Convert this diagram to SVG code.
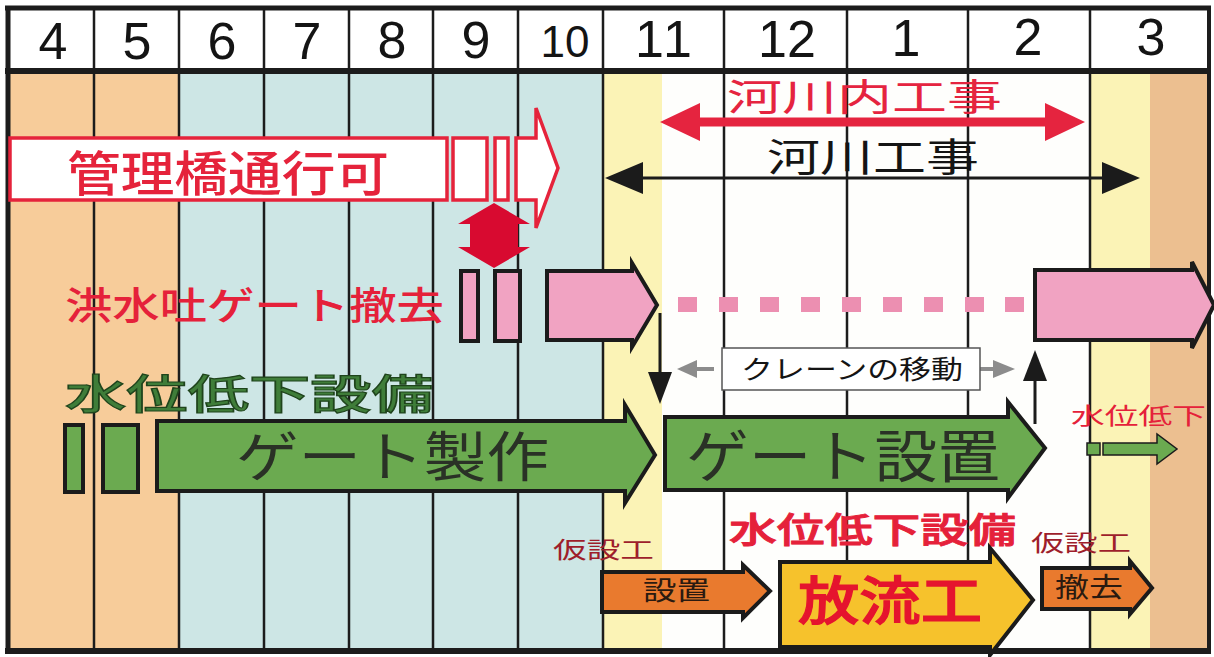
<svg xmlns="http://www.w3.org/2000/svg" width="1214" height="657" viewBox="0 0 1214 657">
<defs>
<style>
.cj{font-family:"Noto Sans CJK JP","Noto Sans CJK SC",sans-serif;}
.num{font-family:"Liberation Sans",Arial,sans-serif;font-size:52px;fill:#141414;text-anchor:middle}
.col{stroke:#1c1c1c;stroke-width:2.5;fill:none}
.brd{stroke:#1c1c1c;fill:none}
.blk{stroke:#1b1b1b;stroke-width:4;stroke-linejoin:miter}
.pink{fill:#F1A3C2}
.green{fill:#6BAA50}
.orange{fill:#E97A2E}
.yellow{fill:#F6C22C}
.redout{fill:#FFFFFF;stroke:#E5233B;stroke-width:3.5}
.gray{fill:#8C8C8C}
</style>
</defs>

<g id="background">
<rect x="0" y="0" width="1214" height="657" fill="#FFFFFF"/>
<rect x="8" y="72" width="171" height="579" fill="#F7CC9A"/>
<rect x="179" y="72" width="424" height="579" fill="#CDE6E5"/>
<rect x="603" y="72" width="59" height="579" fill="#FBF3B6"/>
<rect x="662" y="72" width="428" height="579" fill="#FEFEFC"/>
<rect x="1090" y="72" width="60" height="579" fill="#FBF3B6"/>
<rect x="1150" y="72" width="59" height="579" fill="#ECBF90"/>
</g>

<g id="grid">
<line class="col" x1="94" y1="8" x2="94" y2="651"/>
<line class="col" x1="179" y1="8" x2="179" y2="651"/>
<line class="col" x1="264" y1="8" x2="264" y2="651"/>
<line class="col" x1="349" y1="8" x2="349" y2="651"/>
<line class="col" x1="433" y1="8" x2="433" y2="651"/>
<line class="col" x1="518" y1="8" x2="518" y2="651"/>
<line class="col" x1="603" y1="8" x2="603" y2="651"/>
<line class="col" x1="724" y1="8" x2="724" y2="651"/>
<line class="col" x1="847" y1="8" x2="847" y2="651"/>
<line class="col" x1="968" y1="8" x2="968" y2="651"/>
<line class="col" x1="1090" y1="8" x2="1090" y2="651"/>
<line class="brd" stroke-width="5" x1="5" y1="8" x2="1211" y2="8"/>
<line class="brd" stroke-width="6" x1="5" y1="71" x2="1211" y2="71"/>
<line class="brd" stroke-width="6" x1="5" y1="651" x2="1211" y2="651"/>
<line class="brd" stroke-width="5" x1="8" y1="6" x2="8" y2="654"/>
<line class="brd" stroke-width="4" x1="1209" y1="6" x2="1209" y2="654"/>
</g>

<g id="months">
<text class="num" x="53" y="59">4</text>
<text class="num" x="137" y="59">5</text>
<text class="num" x="222" y="59">6</text>
<text class="num" x="307" y="59">7</text>
<text class="num" x="392" y="58">8</text>
<text class="num" x="476" y="58">9</text>
<text class="num" x="565" y="57" style="font-size:44px">10</text>
<text class="num" x="665" y="57" letter-spacing="3">11</text>
<text class="num" x="787" y="57">12</text>
<text class="num" x="906" y="56">1</text>
<text class="num" x="1028" y="55">2</text>
<text class="num" x="1151" y="55">3</text>
</g>

<g id="kanrikyo">
<rect class="redout" x="10" y="138" width="437" height="62"/>
<rect class="redout" x="453" y="138" width="34" height="62"/>
<rect class="redout" x="495" y="138" width="13" height="62"/>
<polygon class="redout" points="516,138 536,138 536,108 558,168 536,228 536,200 516,200"/>
<text class="cj" x="67" y="191" font-size="48" font-weight="500" fill="#E5233B" textLength="322" lengthAdjust="spacingAndGlyphs">管理橋通行可</text>
</g>

<g id="red-updown">
<polygon fill="#D80A30" points="494,203 530,224 518,224 518,247 530,247 494,268 458,247 470,247 470,224 458,224"/>
</g>

<g id="kasen-nai">
<polygon fill="#E5243F" points="660,122 700,103 700,117.5 1045,117.5 1045,103 1085,122 1045,141 1045,126.5 700,126.5 700,141"/>
<text class="cj" x="727" y="111" font-size="37" fill="#E5243F" textLength="275" lengthAdjust="spacingAndGlyphs">河川内工事</text>
</g>

<g id="kasen">
<line x1="640" y1="178" x2="1105" y2="178" stroke="#1b1b1b" stroke-width="3"/>
<polygon fill="#1b1b1b" points="605,178 643,162 643,194"/>
<polygon fill="#1b1b1b" points="1140,178 1102,162 1102,194"/>
<text class="cj" x="767" y="171" font-size="39" fill="#141414" textLength="212" lengthAdjust="spacingAndGlyphs">河川工事</text>
</g>

<g id="gate-removal">
<text class="cj" x="65" y="319" font-size="38" font-weight="500" fill="#E5213A" textLength="379" lengthAdjust="spacingAndGlyphs">洪水吐ゲート撤去</text>
<rect class="pink blk" x="461" y="271" width="17" height="70"/>
<rect class="pink blk" x="495" y="271" width="25" height="70"/>
<polygon class="pink blk" points="547,271 632,271 632,263 657,305 632,347 632,340 547,340"/>
<g fill="#EC8FB1">
<rect x="678" y="297" width="19" height="15"/>
<rect x="719" y="297" width="19" height="15"/>
<rect x="760" y="297" width="19" height="15"/>
<rect x="801" y="297" width="19" height="15"/>
<rect x="842" y="297" width="19" height="15"/>
<rect x="883" y="297" width="19" height="15"/>
<rect x="924" y="297" width="19" height="15"/>
<rect x="965" y="297" width="19" height="15"/>
<rect x="1005" y="297" width="19" height="15"/>
</g>
<polygon class="pink blk" points="1035,270 1192,270 1192,262 1214,305 1192,348 1192,340 1035,340"/>
</g>

<g id="crane">
<line x1="660" y1="313" x2="660" y2="376" stroke="#1b1b1b" stroke-width="3"/>
<polygon fill="#1b1b1b" points="648,372 672,372 660,404"/>
<line x1="1035" y1="424" x2="1035" y2="378" stroke="#1b1b1b" stroke-width="3"/>
<polygon fill="#1b1b1b" points="1023,381 1047,381 1035,350"/>
<line x1="694" y1="369" x2="714" y2="369" stroke="#8C8C8C" stroke-width="4"/>
<polygon class="gray" points="697,360 677,369 697,378"/>
<line x1="980" y1="369" x2="996" y2="369" stroke="#8C8C8C" stroke-width="4"/>
<polygon class="gray" points="993,360 1015,369 993,378"/>
<rect x="722" y="348" width="258" height="42" fill="#FFFFFF" stroke="#555555" stroke-width="1.5"/>
<text class="cj" x="741" y="379" font-size="26" fill="#141414" textLength="222" lengthAdjust="spacingAndGlyphs">クレーンの移動</text>
</g>

<g id="suii-setsubi">
<text class="cj" x="65" y="409" font-size="41" font-weight="500" fill="#3F7D39" stroke="#1f441c" stroke-width="1.2" textLength="368" lengthAdjust="spacingAndGlyphs">水位低下設備</text>
<rect class="green blk" x="65" y="425" width="18" height="67"/>
<rect class="green blk" x="103" y="425" width="35" height="67"/>
<polygon class="green blk" points="157,421 625,421 625,405 655,455 625,503 625,491 157,491"/>
<text class="cj" x="236" y="477" font-size="54" fill="#2A3126" textLength="313" lengthAdjust="spacingAndGlyphs">ゲート製作</text>
<polygon class="green blk" points="665,417 1008,417 1008,402 1045,448 1008,498 1008,490 665,490"/>
<text class="cj" x="686" y="477" font-size="57" fill="#2A3126" textLength="314" lengthAdjust="spacingAndGlyphs">ゲート設置</text>
</g>

<g id="suii-teika">
<text class="cj" x="1071" y="424" font-size="23" fill="#E5213A" textLength="135" lengthAdjust="spacingAndGlyphs">水位低下</text>
<rect class="green" x="1087" y="443" width="13" height="12" stroke="#1b1b1b" stroke-width="1.5"/>
<polygon class="green" stroke="#1b1b1b" stroke-width="1.5" points="1103,443 1157,443 1157,434 1177,449 1157,464 1157,455 1103,455"/>
</g>

<g id="kasetsu-setchi">
<text class="cj" x="553" y="558" font-size="23" fill="#9E1E2B" textLength="101" lengthAdjust="spacingAndGlyphs">仮設工</text>
<polygon class="orange blk" points="602,572 743,572 743,565 770,591 743,618 743,612 602,612"/>
<text class="cj" x="643" y="600" font-size="26" fill="#2A1A10" textLength="67" lengthAdjust="spacingAndGlyphs">設置</text>
</g>

<g id="houryu">
<text class="cj" x="729" y="543" font-size="35" font-weight="500" fill="#E5213A" stroke="#E5213A" stroke-width="0.9" textLength="287" lengthAdjust="spacingAndGlyphs">水位低下設備</text>
<polygon class="yellow blk" points="780,562 990,562 990,548 1033,600 990,655 990,647 780,647"/>
<text class="cj" x="798" y="620" font-size="52" font-weight="500" fill="#E5142E" stroke="#E5142E" stroke-width="1.2" textLength="184" lengthAdjust="spacingAndGlyphs">放流工</text>
</g>

<g id="kasetsu-tekkyo">
<text class="cj" x="1031" y="551" font-size="23" fill="#9E1E2B" textLength="100" lengthAdjust="spacingAndGlyphs">仮設工</text>
<polygon class="orange blk" points="1042,568 1130,568 1130,561 1152,588 1130,614 1130,609 1042,609"/>
<text class="cj" x="1055" y="597" font-size="27" fill="#2A1A10" textLength="68" lengthAdjust="spacingAndGlyphs">撤去</text>
</g>
</svg>
